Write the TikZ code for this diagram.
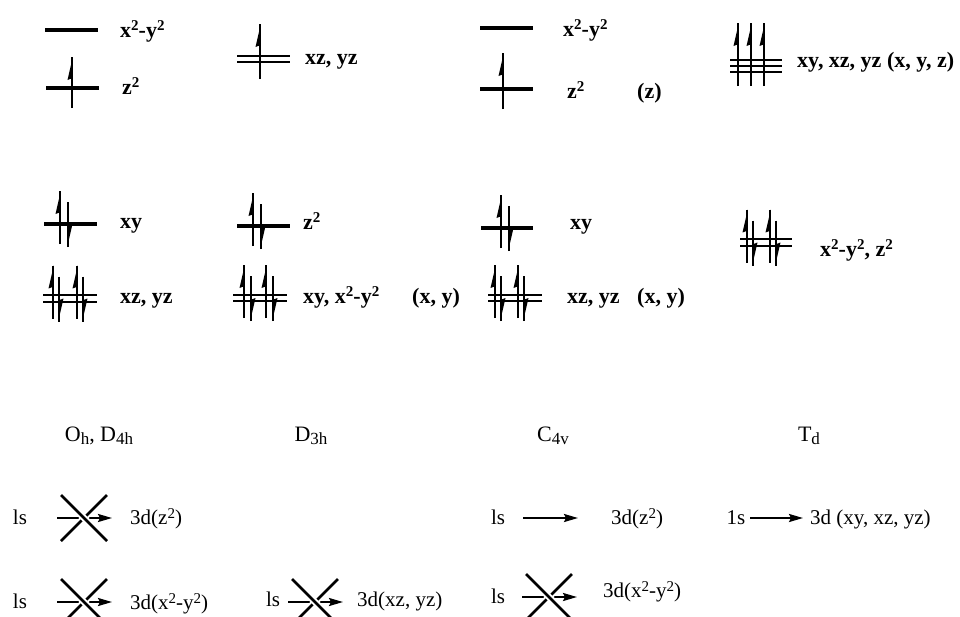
\documentclass[tikz,border=0pt]{standalone}
\usepackage{fontspec}
\setmainfont{Liberation Serif}
\usetikzlibrary{arrows.meta}
\newcommand\myup[3][33]{\draw[spinline] (#2,#3+20) -- (#2,#3-#1);
  \fill (#2+0.8,#3-#1) -- (#2-4.5,#3-#1+23) -- (#2+0.8,#3-#1+21) -- cycle;}
\newcommand\mydown[2]{\draw[spinline] (#1,#2-22) -- (#1,#2+23);
  \fill (#1-0.8,#2+23) -- (#1+4.5,#2) -- (#1-0.8,#2+2) -- cycle;}
\newcommand\lone[3]{\draw[lvl] (#1,#3) -- (#2,#3);}
\newcommand\ltwo[3]{\draw[lvltwo] (#1,#3-3.3) -- (#2,#3-3.3); \draw[lvltwo] (#1,#3+3.3) -- (#2,#3+3.3);}
\newcommand\lthree[3]{\draw[lvltwo] (#1,#3-6) -- (#2,#3-6); \draw[lvltwo] (#1,#3) -- (#2,#3); \draw[lvltwo] (#1,#3+6) -- (#2,#3+6);}
\newcommand\forbid[2]{%
  \draw[harr] (#1-27,#2) -- (#1+28,#2);
  \draw[xline, preaction={draw=white, line width=6.5pt}] (#1+23,#2-23) -- (#1-23,#2+23);
  \draw[xline, preaction={draw=white, line width=6.5pt}] (#1-23,#2-23) -- (#1+23,#2+23);}
\newcommand\sbs[1]{\raisebox{-0.3ex}{\fontsize{17}{17}\selectfont #1}}
\newcommand\sps[1]{\raisebox{0.62ex}{\fontsize{15}{15}\selectfont #1}}
\begin{document}
\begin{tikzpicture}[x=1pt,y=-1pt,
  lvl/.style={line width=3.2pt},
  lvltwo/.style={line width=2.2pt},
  spinline/.style={line width=1.8pt},
  harr/.style={line width=2pt,-{Stealth[length=14pt,width=8pt,inset=2pt]}},
  xline/.style={line width=2.7pt},
  lab/.style={font=\bfseries\fontsize{22}{26}\selectfont, anchor=base west, inner sep=0pt},
  txt/.style={font=\fontsize{21}{25}\selectfont, inner sep=0pt},
  grp/.style={font=\fontsize{22}{26}\selectfont, anchor=base, inner sep=0pt}]
\useasboundingbox (0,0) rectangle (960,616);
% ---- column 1: Oh, D4h
\lone{45}{98}{30}
\node[lab] (c1a) at (120,37) {x\sps{2}-y\sps{2}};
\lone{46}{99}{88}
\myup[31]{72}{88}
\node[lab] (c1b) at (122,94) {z\sps{2}};
\lone{44}{97}{224}
\myup{60}{224}\mydown{68}{224}
\node[lab] (c1c) at (120,228) {xy};
\ltwo{43}{97}{298.5}
\myup{53}{298.5}\mydown{59}{298.5}\myup{77}{298.5}\mydown{83}{298.5}
\node[lab] (c1d) at (120,303) {xz, yz};
% ---- column 2: D3h
\ltwo{237}{290}{59}
\myup[35]{260}{59}
\node[lab] (c2a) at (305,64) {xz, yz};
\lone{237}{290}{226}
\myup{253}{226}\mydown{261}{226}
\node[lab] (c2b) at (303,229) {z\sps{2}};
\ltwo{233}{287}{298}
\myup{244}{298}\mydown{251}{298}\myup{266}{298}\mydown{273}{298}
\node[lab] (c2c) at (303,303) {xy, x\sps{2}-y\sps{2}};
\node[lab] (c2d) at (412,303) {(x, y)};
% ---- column 3: C4v
\lone{480}{533}{28}
\node[lab] (c3a) at (563,36) {x\sps{2}-y\sps{2}};
\lone{480}{533}{89}
\myup[36]{503}{89}
\node[lab] (c3b) at (567,98) {z\sps{2}};
\node[lab] (c3z) at (637,98) {(z)};
\lone{481}{533}{228}
\myup{501}{228}\mydown{509}{228}
\node[lab] (c3c) at (570,229) {xy};
\ltwo{488}{542}{298}
\myup{495}{298}\mydown{501}{298}\myup{518}{298}\mydown{524}{298}
\node[lab] (c3d) at (567,303) {xz, yz};
\node[lab] (c3e) at (637,303) {(x, y)};
% ---- column 4: Td
\lthree{730}{782}{66}
\myup[43]{738}{66}\myup[43]{751}{66}\myup[43]{764}{66}
\node[lab] (c4a) at (797,67) {xy, xz, yz (x, y, z)};
\ltwo{740}{792}{242.5}
\myup{747}{242.5}\mydown{753}{242.5}\myup{770}{242.5}\mydown{776}{242.5}
\node[lab] (c4b) at (820,256) {x\sps{2}-y\sps{2}, z\sps{2}};
% ---- group labels
\node[grp] (g1) at (99,441) {O\sbs{h}, D\sbs{4h}};
\node[grp] (g2) at (311,441) {D\sbs{3h}};
\node[grp] (g3) at (553,441) {C\sbs{4v}};
\node[grp] (g4) at (809,441) {T\sbs{d}};
% ---- transitions
\node[txt, anchor=base] (s1) at (20,524) {ls};
\forbid{84}{518}
\node[txt, anchor=base west] (d1) at (130,524) {3d(z\sps{2})};
\node[txt, anchor=base] (s2) at (20,608) {ls};
\forbid{84}{602}
\node[txt, anchor=base west] (d2) at (130,609) {3d(x\sps{2}-y\sps{2})};
\node[txt, anchor=base] (s3) at (273,606) {ls};
\forbid{315}{602}
\node[txt, anchor=base west] (d3) at (357,606) {3d(xz, yz)};
\node[txt, anchor=base] (s4) at (498,524) {ls};
\coordinate (a4s) at (523,518);
\coordinate (a4e) at (578,518);
\draw[harr] (a4s) -- (a4e);
\node[txt, anchor=base west] (d4) at (611,524) {3d(z\sps{2})};
\node[txt, anchor=base] (s5) at (498,603) {ls};
\forbid{549}{597}
\node[txt, anchor=base west] (d5) at (603,597) {3d(x\sps{2}-y\sps{2})};
\node[txt, anchor=base] (s6) at (736,524) {1s};
\coordinate (a6s) at (750,518);
\coordinate (a6e) at (803,518);
\draw[harr] (a6s) -- (a6e);
\node[txt, anchor=base west] (d6) at (810,524) {3d (xy, xz, yz)};
\end{tikzpicture}
\end{document}
